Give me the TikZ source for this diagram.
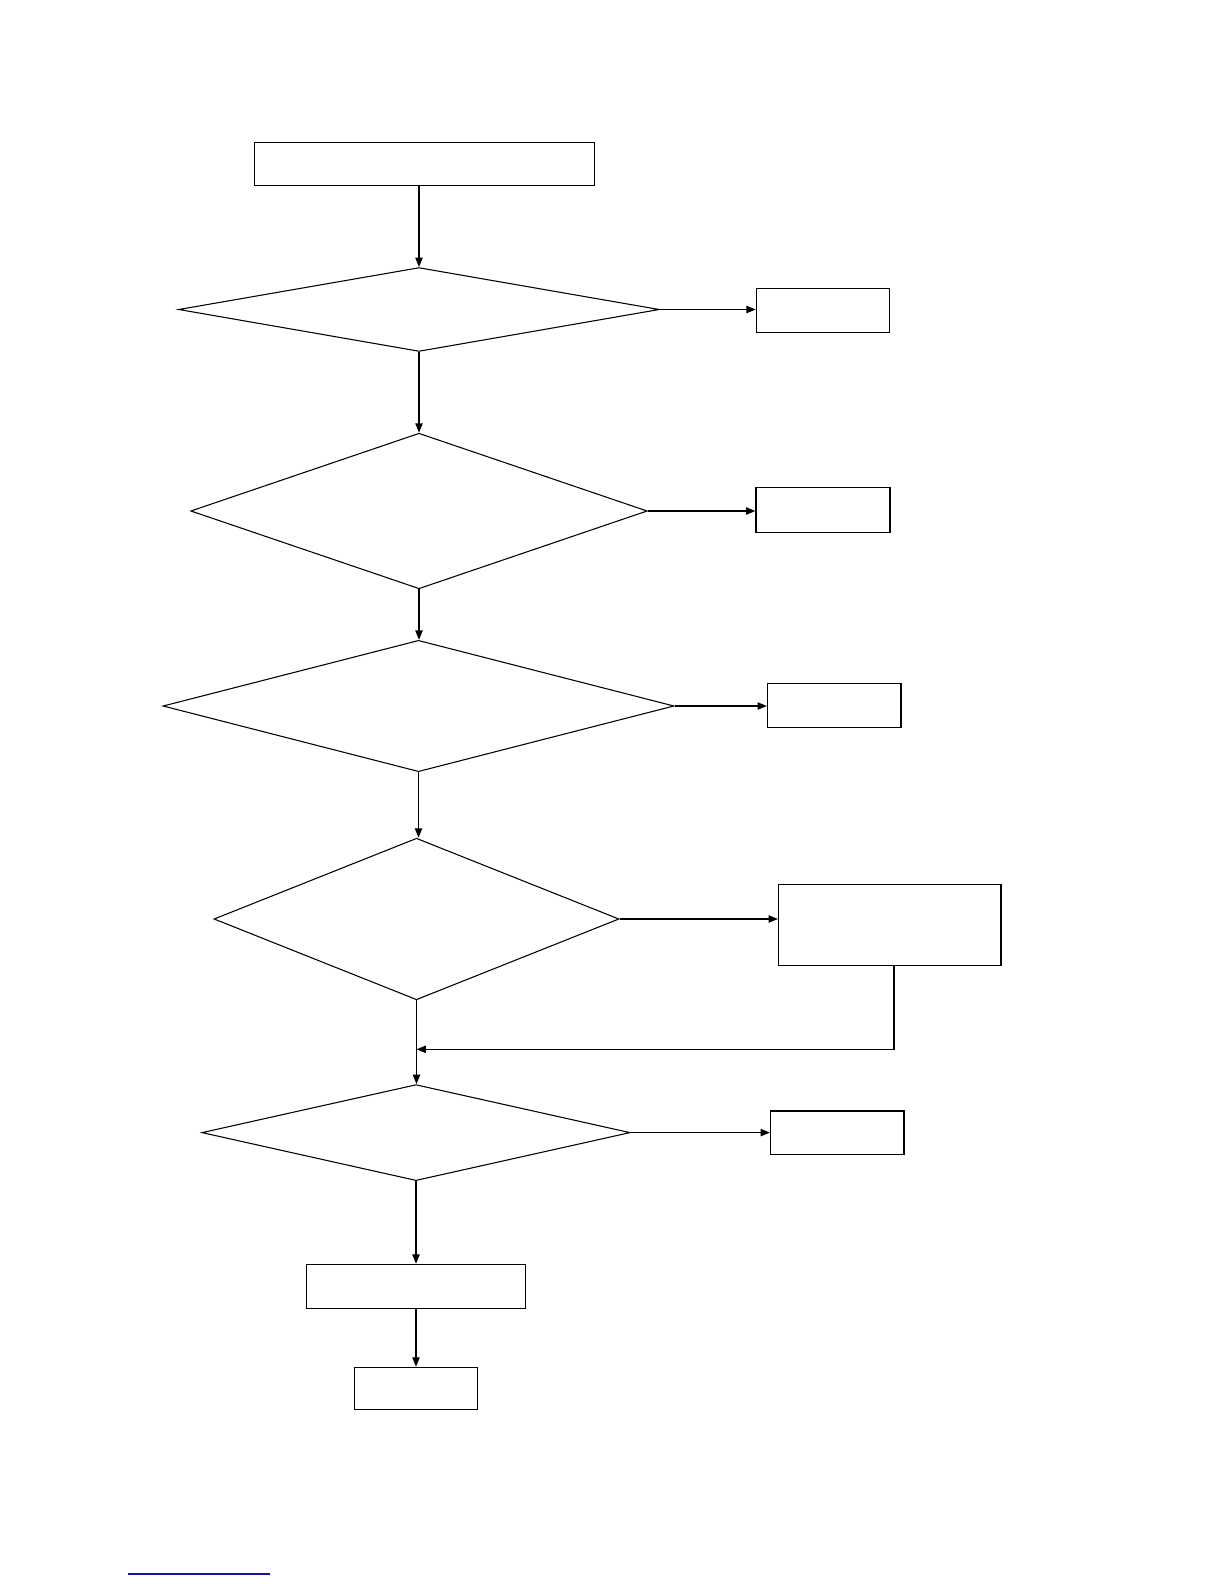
\documentclass[tikz,border=0pt]{standalone}
\usetikzlibrary{shapes.geometric,arrows.meta}
\begin{document}
\begin{tikzpicture}[x=0.75pt,y=-0.75pt,
  boxnode/.style={draw,line width=1pt,inner sep=0pt,rectangle},
  decision/.style={draw,line width=0.8pt,inner sep=0pt,diamond},
  flow/.style={line width=0.8pt,-{Triangle[length=7pt,width=5.5pt]}}]
\useasboundingbox (0,0) rectangle (1224,1584);
\node[boxnode,minimum width=255.2pt,minimum height=32.6pt] (top) at (424.6,164.1) {};
\node[decision,minimum width=360.6pt,minimum height=62.9pt] (d1) at (419,309.5) {};
\node[boxnode,minimum width=100pt,minimum height=32.6pt] (r1) at (823,310.5) {};
\node[decision,minimum width=342.4pt,minimum height=116.7pt] (d2) at (419,511) {};
\node[boxnode,minimum width=100.5pt,minimum height=33.3pt] (r2) at (823,510) {};
\node[decision,minimum width=383.3pt,minimum height=98.5pt] (d3) at (418.5,706) {};
\node[boxnode,minimum width=100pt,minimum height=33.3pt] (r3) at (834.2,705.5) {};
\node[decision,minimum width=303.8pt,minimum height=121.2pt] (d4) at (416.5,919) {};
\node[boxnode,minimum width=166.7pt,minimum height=60.6pt] (r4) at (889.7,925.1) {};
\node[decision,minimum width=321.2pt,minimum height=72pt] (d5) at (416,1132.6) {};
\node[boxnode,minimum width=100pt,minimum height=32.6pt] (r5) at (837.2,1132.6) {};
\node[boxnode,minimum width=164.3pt,minimum height=33.3pt] (b1) at (416,1286.6) {};
\node[boxnode,minimum width=92.4pt,minimum height=31.8pt] (b2) at (416,1388.6) {};
\coordinate (fb) at (894,1049.3);
\coordinate (s4) at (894,965.5);
\draw[flow] (top.south -| d1.north) -- (d1.north);
\draw[flow] (d1.east) -- (d1.east -| r1.west);
\draw[flow] (d1.south) -- (d1.south |- d2.north);
\draw[flow] (d2.east) -- (d2.east -| r2.west);
\draw[flow] (d2.south) -- (d2.south |- d3.north);
\draw[flow] (d3.east) -- (d3.east -| r3.west);
\draw[flow] (d3.south) -- (d3.south |- d4.north);
\draw[flow] (d4.east) -- (d4.east -| r4.west);
\draw[flow] (d4.south) -- (d4.south |- d5.north);
\draw[flow] (s4) -- (fb) -- (fb -| d4.south);
\draw[flow] (d5.east) -- (d5.east -| r5.west);
\draw[flow] (d5.south) -- (d5.south |- b1.north);
\draw[flow] (b1.south) -- (b1.south |- b2.north);
\draw[line width=1.2pt,color={rgb,255:red,20;green,20;blue,150}] (128,1574) -- (270,1574);
\end{tikzpicture}
\end{document}
